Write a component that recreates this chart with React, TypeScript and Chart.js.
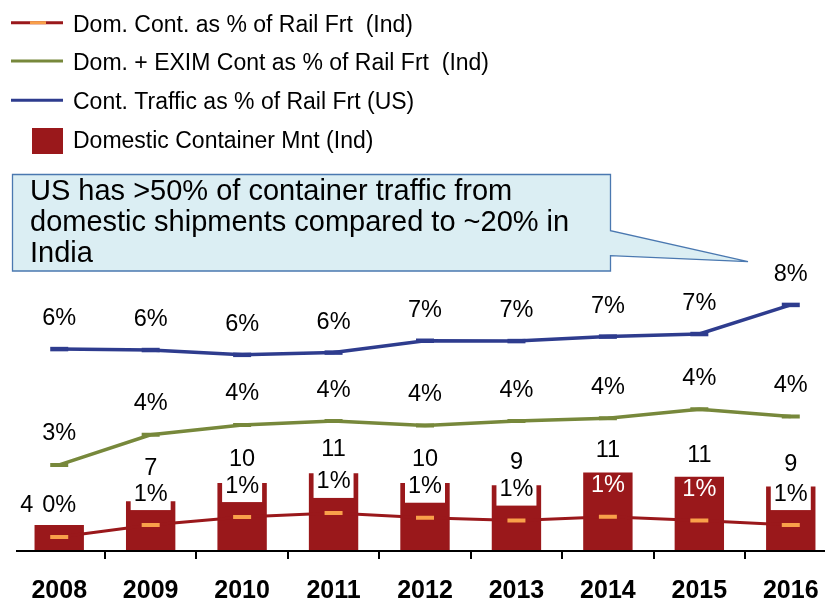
import React, { useEffect, useRef } from "react";
import { Chart, registerables } from "chart.js";

Chart.register(...registerables);

// ---- data ----
const years = ["2008", "2009", "2010", "2011", "2012", "2013", "2014", "2015", "2016"];
const domContainerMnt = [3.7, 7.1, 9.7, 11.1, 9.7, 9.4, 11.2, 10.6, 9.2];
const domContPctRail = [0.44, 0.81, 1.06, 1.19, 1.04, 0.95, 1.07, 0.95, 0.81];
const domEximPctRail = [2.69, 3.63, 3.94, 4.06, 3.92, 4.06, 4.15, 4.43, 4.2];
const usContPctRail = [6.31, 6.28, 6.13, 6.2, 6.57, 6.56, 6.7, 6.78, 7.69];

const legendLabels = [
  "Dom. Cont. as % of Rail Frt  (Ind)",
  "Dom. + EXIM Cont as % of Rail Frt  (Ind)",
  "Cont. Traffic as % of Rail Frt (US)",
  "Domestic Container Mnt (Ind)",
];
const calloutLines = [
  "US has >50% of container traffic from",
  "domestic shipments compared to ~20% in",
  "India",
];

// ---- styles ----
const RED = "#9A181B";
const ORANGE = "#F9A04A";
const GREEN = "#77883B";
const BLUE = "#2E3C8E";
const FONT = '"Liberation Sans", Arial, Helvetica, sans-serif';
const barLabelDx = [-32.5, 0, 0, 0, 0, 0, 0, 0, 0];
const barLabelDy = [-20, -32.5, -24, -24, -24, -22.5, -22, -21, -22];
const redLabelOnBar = [false, false, false, false, false, false, true, true, false];

const overlayPlugin = {
  id: "overlay",
  afterDatasetsDraw(chart: any) {
    const ctx = chart.ctx;
    const xs = chart.scales.x;
    const ys = chart.scales.y;
    const y1 = chart.scales.y1;
    ctx.save();
    ctx.font = `23.5px ${FONT}`;
    ctx.textAlign = "center";
    ctx.textBaseline = "middle";
    // red line labels with white boxes
    domContPctRail.forEach((v, i) => {
      const x = xs.getPixelForValue(i);
      const y = y1.getPixelForValue(v) - 31;
      if (!redLabelOnBar[i]) {
        ctx.fillStyle = "#ffffff";
        ctx.fillRect(x - 20, y - 14, 40, 30);
        ctx.fillStyle = "#000000";
      } else {
        ctx.fillStyle = "#ffffff";
      }
      ctx.fillText(Math.round(v) + "%", x, y);
    });
    ctx.fillStyle = "#000000";
    domContainerMnt.forEach((v, i) => {
      const x = xs.getPixelForValue(i) + barLabelDx[i];
      const y = ys.getPixelForValue(v) + barLabelDy[i];
      ctx.fillText(String(Math.round(v)), x, y);
    });
    domEximPctRail.forEach((v, i) => {
      const x = xs.getPixelForValue(i);
      const y = y1.getPixelForValue(v) - 31;
      ctx.fillText(Math.round(v) + "%", x, y);
    });
    usContPctRail.forEach((v, i) => {
      const x = xs.getPixelForValue(i);
      const y = y1.getPixelForValue(v) - 30.5;
      ctx.fillText(Math.round(v) + "%", x, y);
    });
    ctx.restore();
  },
  afterDraw(chart: any) {
    const ctx = chart.ctx;
    const xs = chart.scales.x;
    const area = chart.chartArea;
    ctx.save();
    // axis line
    ctx.strokeStyle = "#000";
    ctx.lineWidth = 2;
    ctx.beginPath();
    ctx.moveTo(16, area.bottom);
    ctx.lineTo(chart.width, area.bottom);
    ctx.stroke();
    // ticks between categories
    const n = years.length;
    const w = (area.right - area.left) / n;
    for (let k = 1; k < n; k++) {
      const x = Math.round(area.left + k * w);
      ctx.beginPath();
      ctx.moveTo(x, area.bottom);
      ctx.lineTo(x, area.bottom + 8);
      ctx.stroke();
    }
    // x labels
    ctx.fillStyle = "#000";
    ctx.font = `bold 25px ${FONT}`;
    ctx.textAlign = "center";
    ctx.textBaseline = "alphabetic";
    years.forEach((yr, i) => {
      ctx.fillText(yr, xs.getPixelForValue(i), area.bottom + 47);
    });

    // legend
    ctx.font = `23px ${FONT}`;
    ctx.textAlign = "left";
    const rowY = [22.7, 61, 100.3, 141];
    const baseY = [31.7, 70, 109.3, 148.3];
    ctx.lineWidth = 3;
    ctx.lineCap = "butt";
    const lineCols = [RED, GREEN, BLUE];
    for (let r = 0; r < 3; r++) {
      ctx.strokeStyle = lineCols[r];
      ctx.beginPath();
      ctx.moveTo(11, rowY[r]);
      ctx.lineTo(63, rowY[r]);
      ctx.stroke();
    }
    ctx.strokeStyle = ORANGE;
    ctx.beginPath();
    ctx.moveTo(30, rowY[0]);
    ctx.lineTo(46, rowY[0]);
    ctx.stroke();
    ctx.fillStyle = RED;
    ctx.fillRect(32, 128, 31, 26);
    ctx.fillStyle = "#000";
    legendLabels.forEach((t, i) => ctx.fillText(t, 73, baseY[i]));

    // callout
    ctx.beginPath();
    ctx.moveTo(12.5, 174.5);
    ctx.lineTo(610.5, 174.5);
    ctx.lineTo(610.5, 230.7);
    ctx.lineTo(748, 261.7);
    ctx.lineTo(610.5, 255.7);
    ctx.lineTo(610.5, 271);
    ctx.lineTo(12.5, 271);
    ctx.closePath();
    ctx.fillStyle = "#DBEEF3";
    ctx.fill();
    ctx.strokeStyle = "#4A78B0";
    ctx.lineWidth = 1.3;
    ctx.stroke();
    ctx.fillStyle = "#000";
    ctx.font = `29px ${FONT}`;
    const cb = [199.5, 230.5, 261.5];
    calloutLines.forEach((t, i) => ctx.fillText(t, 30, cb[i]));
    ctx.restore();
  },
};

export default function App() {
  const ref = useRef<HTMLCanvasElement | null>(null);
  useEffect(() => {
    if (!ref.current) return;
    const chart = new Chart(ref.current, {
      type: "bar",
      data: {
        labels: years,
        datasets: [
          {
            type: "line",
            label: legendLabels[0],
            data: domContPctRail,
            yAxisID: "y1",
            borderColor: RED,
            borderWidth: 3,
            pointStyle: "line",
            pointRadius: 9,
            pointBorderWidth: 4,
            pointBorderColor: ORANGE,
            pointBackgroundColor: ORANGE,
            tension: 0,
            order: 1,
          } as any,
          {
            type: "line",
            label: legendLabels[1],
            data: domEximPctRail,
            yAxisID: "y1",
            borderColor: GREEN,
            borderWidth: 3.5,
            pointStyle: "line",
            pointRadius: 9,
            pointBorderWidth: 4,
            pointBorderColor: GREEN,
            tension: 0,
            order: 1,
          } as any,
          {
            type: "line",
            label: legendLabels[2],
            data: usContPctRail,
            yAxisID: "y1",
            borderColor: BLUE,
            borderWidth: 3.5,
            pointStyle: "line",
            pointRadius: 9,
            pointBorderWidth: 4.5,
            pointBorderColor: BLUE,
            tension: 0,
            order: 1,
          } as any,
          {
            type: "bar",
            label: legendLabels[3],
            data: domContainerMnt,
            yAxisID: "y",
            backgroundColor: RED,
            borderWidth: 0,
            barPercentage: 0.54,
            categoryPercentage: 1,
            order: 10,
          } as any,
        ],
      },
      options: {
        animation: false,
        responsive: false,
        devicePixelRatio: 1,
        layout: { padding: { left: 10, right: 10.4, top: 291, bottom: 51 } },
        plugins: { legend: { display: false }, tooltip: { enabled: false } },
        events: [],
        scales: {
          x: { type: "category", display: false, offset: true, grid: { display: false } },
          y: { display: false, min: 0, max: 37.14 },
          y1: { display: false, min: 0, max: 8.125, position: "right" },
        },
      },
      plugins: [overlayPlugin],
    } as any);
    return () => chart.destroy();
  }, []);
  return (
    <div
      style={{
        position: "fixed",
        left: 0,
        top: 0,
        width: 825,
        height: 602,
        overflow: "hidden",
        background: "#fff",
      }}
    >
      <canvas ref={ref} width={850} height={602} style={{ display: "block", width: 850, height: 602 }} />
    </div>
  );
}
